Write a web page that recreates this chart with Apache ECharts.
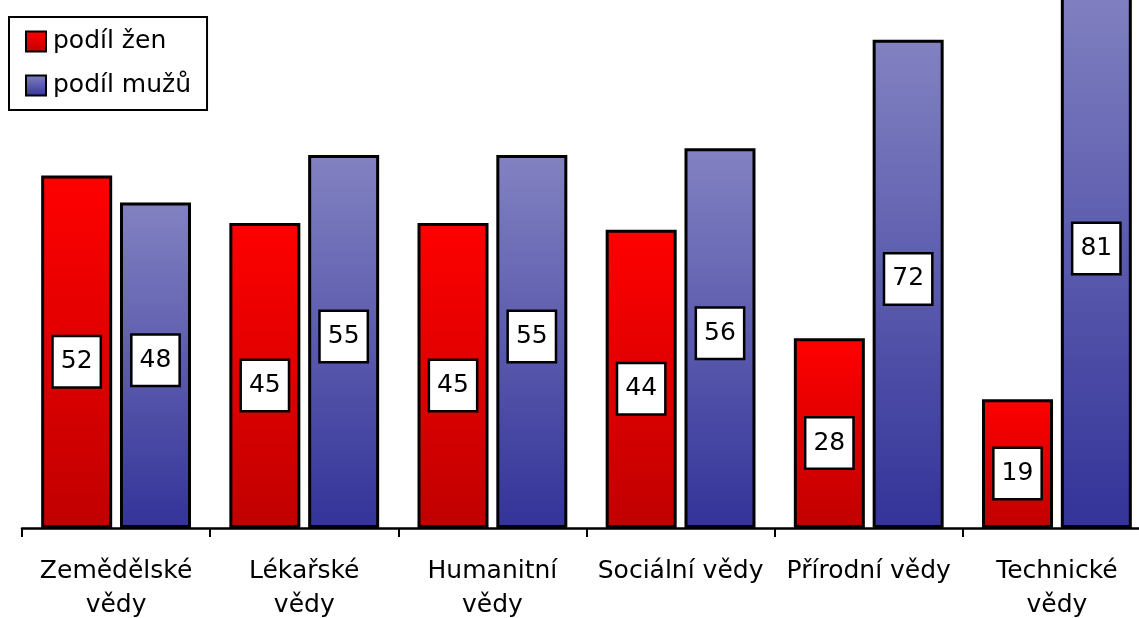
<!DOCTYPE html>
<html>
<head>
<meta charset="utf-8">
<script src="https://cdn.jsdelivr.net/npm/echarts@6/dist/echarts.min.js"></script>
<style>
 html, body { margin: 0; padding: 0; background: #fff; }
 .chart { width: 1139px; height: 618px; }
</style>
</head>
<body>
<div class="chart"></div>
<script>
// data
var categories = ['Zemědělské\nvědy', 'Lékařské\nvědy', 'Humanitní\nvědy', 'Sociální vědy', 'Přírodní vědy', 'Technické\nvědy'];
var podilZen = [52, 45, 45, 44, 28, 19];
var podilMuzu = [48, 55, 55, 56, 72, 81];

var FONT = 'DejaVu Sans';

function grad(top, bottom) {
    return new echarts.graphic.LinearGradient(0, 0, 0, 1, [
        { offset: 0, color: top },
        { offset: 1, color: bottom }
    ]);
}

function boxLabel(dy) {
    return {
        show: true,
        position: 'inside',
        offset: [0, dy],
        color: '#000',
        fontFamily: FONT,
        fontSize: 25,
        lineHeight: 29,
        backgroundColor: '#fff',
        borderColor: '#000',
        borderWidth: 2.5,
        padding: [10, 7]
    };
}

var myChart = echarts.init(document.querySelector('.chart'));

var option = {
    animation: false,
    grid: {
        left: 22, width: 1129, top: -150, height: 678,
        containLabel: false,
        outerBoundsMode: 'none'
    },
    legend: {
        orient: 'vertical',
        left: 9,
        top: 17,
        padding: [12, 16, 12, 16],
        backgroundColor: '#fff',
        borderColor: '#000',
        borderWidth: 2,
        borderRadius: 0,
        itemWidth: 20,
        itemHeight: 20,
        itemGap: 19,
        itemStyle: { borderColor: '#000', borderWidth: 2 },
        textStyle: { fontFamily: FONT, fontSize: 25, color: '#000', padding: [0, 0, 0, 2] },
        data: [
            { name: 'podíl žen', icon: 'rect' },
            { name: 'podíl mužů', icon: 'rect' }
        ]
    },
    xAxis: {
        type: 'category',
        data: categories,
        axisLine: { lineStyle: { color: '#000', width: 2.5 } },
        axisTick: { show: true, length: 9, lineStyle: { color: '#000', width: 2 } },
        axisLabel: {
            interval: 0,
            margin: 26,
            color: '#000',
            fontFamily: FONT,
            fontSize: 25,
            lineHeight: 34
        }
    },
    yAxis: {
        type: 'value',
        min: 0,
        max: 100,
        show: false,
        splitLine: { show: false }
    },
    series: [
        {
            name: 'podíl žen',
            type: 'bar',
            data: podilZen,
            barWidth: 71,
            barGap: '11%',
            itemStyle: { color: grad('#ff0000', '#c00000'), borderColor: '#000', borderWidth: 3 },
            label: boxLabel(10)
        },
        {
            name: 'podíl mužů',
            type: 'bar',
            data: podilMuzu,
            barWidth: 71,
            barGap: '11%',
            itemStyle: { color: grad('#8282c2', '#333399'), borderColor: '#000', borderWidth: 3 },
            label: boxLabel(-5)
        }
    ]
};

myChart.setOption(option);
</script>
</body>
</html>
